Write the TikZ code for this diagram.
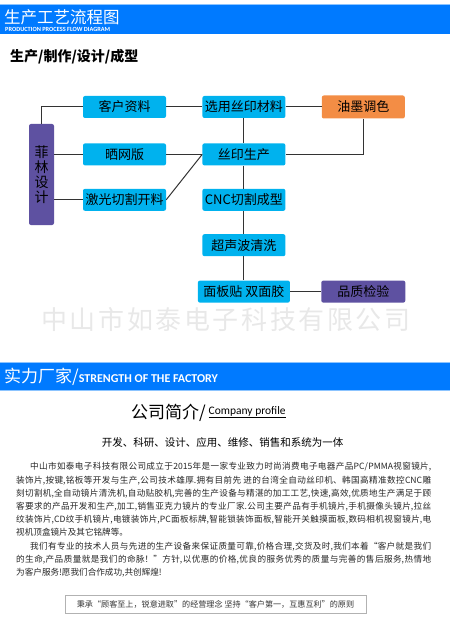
\documentclass[tikz,border=0pt]{standalone}
\usepackage{fontspec}
\setmainfont{Noto Sans CJK SC}
\newfontfamily\enfont{Carlito}
\newfontfamily\wmfont{Noto Sans CJK SC}[LetterSpace=10]
\usepackage{xcolor}
\usepackage{tikz}
\usetikzlibrary{positioning, shadows}

\XeTeXlinebreaklocale "zh"
\XeTeXlinebreakskip=0pt plus 1.5pt
\tolerance=10000

\definecolor{barblue}{HTML}{007AFF}
\definecolor{barlight}{HTML}{8CC4FF}
\definecolor{boxcyan}{HTML}{00B2EE}
\definecolor{boxpurple}{HTML}{5E51A1}
\definecolor{boxorange}{HTML}{F38D45}
\definecolor{linkgray}{HTML}{333333}

\begin{document}
\begin{tikzpicture}[
    x=1pt, y=-1pt,
    node distance=25pt and 36pt,
    stepbox/.style={rectangle, fill=boxcyan, rounded corners=2pt, minimum width=83pt, minimum height=22pt, inner sep=0pt, font=\fontsize{13}{15}\selectfont},
    checkbox/.style={stepbox, fill=boxpurple, minimum width=84pt},
    inkbox/.style={stepbox, fill=boxorange, minimum height=23pt},
    link/.style={draw=linkgray, line width=1pt},
]
\useasboundingbox (0,0) rectangle (450,628);

% 标题栏
\fill[barblue] (0,4) rectangle (450,34);
\fill[barlight] (0,4) rectangle (450,5);
\node[anchor=west, text=white, inner sep=0pt, font=\fontsize{16.5}{18}\selectfont] (title) at (4,17) {生产工艺流程图};
\node[anchor=west, text=white, inner sep=0pt, font=\enfont\bfseries\fontsize{6.3}{7}\selectfont] (subtitle) at (5,29.5) {PRODUCTION PROCESS FLOW DIAGRAM};
\node[anchor=west, inner sep=0pt, font=\bfseries\fontsize{14}{16}\selectfont] (steps) at (10,57) {生产/制作/设计/成型};

% 设计
\node[rectangle, fill=boxpurple, rounded corners=2pt, minimum width=25pt, minimum height=101pt, inner sep=0pt, align=center, font=\fontsize{14}{15}\selectfont] (film) at (41.5,174.5) {菲\\林\\设\\计};

% 准备
\node[stepbox] (client) at (124.5,107) {客户资料};
\node[stepbox, below=of client] (screen) {晒网版};
\node[stepbox, below=23pt of screen] (laser) {激光切割开料};

% 丝印
\node[stepbox, right=of client] (material) {选用丝印材料};
\node[stepbox, right=of screen] (printing) {丝印生产};
\node[stepbox, right=of laser] (cnc) {CNC切割成型};
\node[inkbox, right=of material] (ink) {油墨调色};

% 后段
\node[stepbox, below=23pt of cnc] (cleaning) {超声波清洗};
\node[stepbox, below=24pt of cleaning, minimum width=92pt] (tape) {面板贴 双面胶};
\node[checkbox, right=31pt of tape] (quality) {品质检验};

% 连线
\draw[link] (film.north) |- (client.west);
\draw[link] (film.east |- screen) -- (screen.west);
\draw[link] (film.east |- laser) -- (laser.west);
\draw[link] (client) -- (material);
\draw[link] (screen) -- (printing);
\draw[link] (laser.east) -- (printing.west);
\draw[link] (material) -- (ink);
\draw[link] (ink.south) |- (printing.east);
\draw[link] (material) -- (printing);
\draw[link] (printing) -- (cnc);
\draw[link] (cnc) -- (cleaning);
\draw[link] (cleaning) -- (tape);
\draw[link] (tape) -- (quality);

% 水印
\node[text=gray!18, inner sep=0pt, font=\wmfont\fontsize{26}{28}\selectfont] (watermark) at (226,320) {中山市如泰电子科技有限公司};

% 实力厂家
\fill[barblue] (0,362) rectangle (450,391);
\fill[barlight] (0,362) rectangle (450,363);
\fill[barlight] (0,390) rectangle (450,391);
\node[anchor=west, text=white, inner sep=0pt, font=\fontsize{17}{20}\selectfont] (factory) at (4,377) {实力厂家/{\enfont\bfseries\fontsize{12}{14}\selectfont STRENGTH OF THE FACTORY}};

% 公司简介
\node[anchor=east, inner sep=0pt, font=\fontsize{17}{20}\selectfont] (profile) at (206,413) {公司简介/};
\node[anchor=west, inner xsep=0pt, inner ysep=1.5pt, font=\enfont\fontsize{11.5}{13}\selectfont] (profileen) at (208.5,411) {Company profile};
\draw[line width=1.3pt] (profileen.south west) -- (profileen.south east);
\node[inner sep=0pt, font=\fontsize{10.5}{12}\selectfont] (scope) at (222.5,442.5) {开发、科研、设计、应用、维修、销售和系统为一体};

% 正文
\node[anchor=north west, text width=415pt, align=justify, inner sep=0pt, text=black!85, font=\fontsize{8.6}{13.2}\selectfont] (intro) at (16,462.5) {%
\hspace*{14pt}中山市如泰电子科技有限公司成立于2015年是一家专业致力时尚消费电子电器产品PC/PMMA视窗镜片,\linebreak
装饰片,按键,铭板等开发与生产,公司技术雄厚.拥有目前先 进的台湾全自动丝印机、韩国高精准数控CNC雕\linebreak
刻切割机,全自动镜片清洗机,自动贴胶机,完善的生产设备与精湛的加工工艺,快速,高效,优质地生产满足于顾\linebreak
客要求的产品开发和生产,加工,销售亚克力镜片的专业厂家.公司主要产品有手机镜片,手机摄像头镜片,拉丝\linebreak
纹装饰片,CD纹手机镜片,电镀装饰片,PC面板标牌,智能锁装饰面板,智能开关触摸面板,数码相机视窗镜片,电\linebreak
视机顶盒镜片及其它铭牌等。\par
\hspace*{14pt}我们有专业的技术人员与先进的生产设备来保证质量可靠,价格合理,交货及时,我们本着“客户就是我们\linebreak
的生命,产品质量就是我们的命脉！”方针,以优惠的价格,优良的服务优秀的质量与完善的售后服务,热情地\linebreak
为客户服务!愿我们合作成功,共创辉煌!\par};

% 理念
\node[draw=gray!60, fill=white, drop shadow={opacity=0.15, shadow xshift=1pt, shadow yshift=-1pt}, minimum width=301pt, minimum height=18pt, inner sep=0pt, text=black!80, font=\fontsize{8.1}{10}\selectfont] (motto) at (215.5,604) {秉承“顾客至上，锐意进取”的经营理念 坚持“客户第一，互惠互利”的原则};

\end{tikzpicture}
\end{document}
